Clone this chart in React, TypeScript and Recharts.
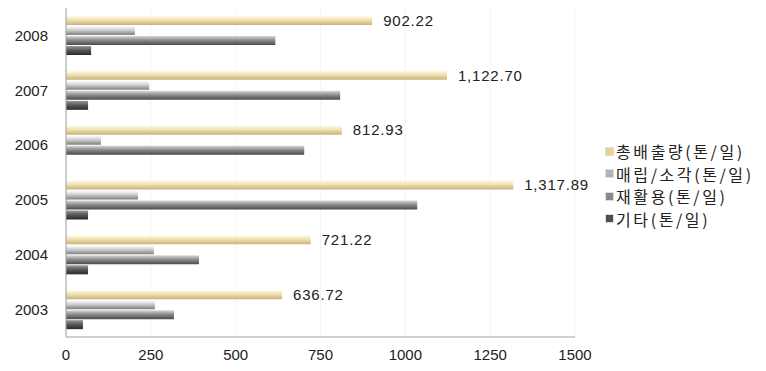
import { BarChart, Bar, XAxis, YAxis, CartesianGrid, Legend, LabelList } from "recharts"

const years = ["2008", "2007", "2006", "2005", "2004", "2003"]
const totalOut = [902.22, 1122.7, 812.93, 1317.89, 721.22, 636.72]
const landfill = [203, 245, 103, 212, 259, 262]
const recycle = [617, 808, 702, 1035, 392, 318]
const other = [74, 65, 0, 65, 65, 50]
const seriesNames = ["총배출량(톤/일)", "매립/소각(톤/일)", "재활용(톤/일)", "기타(톤/일)"]
const xTicks = [0, 250, 500, 750, 1000, 1250, 1500]

const data = years.map((year, i) => ({
  year,
  total: totalOut[i],
  landfill: landfill[i],
  recycle: recycle[i],
  other: other[i],
}))

const legendColors = ["#e6d394", "#b4b4b4", "#8a8a8a", "#4e4e4e"]
const numFont = "'Liberation Sans', Arial, sans-serif"
const krFont = "'Noto Sans CJK KR', sans-serif"

const fmt = (v: any) =>
  Number(v).toLocaleString("en-US", { minimumFractionDigits: 2, maximumFractionDigits: 2 })

function LegendBox() {
  return (
    <div style={{ fontFamily: krFont, fontSize: 16, color: "#222", letterSpacing: 2.6 }}>
      {seriesNames.map((name, i) => (
        <div key={name} style={{ display: "flex", alignItems: "center", height: 22.5 }}>
          <span
            style={{
              display: "inline-block",
              width: 7,
              height: 7,
              background: legendColors[i],
              marginRight: 2,
              border: "1px solid #ddd",
            }}
          />
          {name}
        </div>
      ))}
    </div>
  )
}

export default function App() {
  return (
    <div style={{ position: "absolute", left: 0, top: 0, width: 766, height: 371, background: "#fff" }}>
      <style>{"body{margin:0}"}</style>
      <BarChart
        width={766}
        height={371}
        data={data}
        layout="vertical"
        margin={{ top: 8, right: 191, left: 0, bottom: 4 }}
        barSize={9}
        barGap={1}
      >
        <defs>
          <linearGradient id="gTotal" x1="0" y1="0" x2="0" y2="1">
            <stop offset="0%" stopColor="#fffbe8" />
            <stop offset="45%" stopColor="#efe0ae" />
            <stop offset="100%" stopColor="#c9b27a" />
          </linearGradient>
          <linearGradient id="gLand" x1="0" y1="0" x2="0" y2="1">
            <stop offset="0%" stopColor="#ffffff" />
            <stop offset="45%" stopColor="#cfcfcf" />
            <stop offset="100%" stopColor="#7e7e7e" />
          </linearGradient>
          <linearGradient id="gRec" x1="0" y1="0" x2="0" y2="1">
            <stop offset="0%" stopColor="#d8d8d8" />
            <stop offset="45%" stopColor="#8e8e8e" />
            <stop offset="100%" stopColor="#4a4a4a" />
          </linearGradient>
          <linearGradient id="gOther" x1="0" y1="0" x2="0" y2="1">
            <stop offset="0%" stopColor="#9a9a9a" />
            <stop offset="45%" stopColor="#5a5a5a" />
            <stop offset="100%" stopColor="#2a2a2a" />
          </linearGradient>
        </defs>
        <CartesianGrid horizontal={false} stroke="#f3f3f3" />
        <XAxis
          type="number"
          domain={[0, 1500]}
          ticks={xTicks}
          tickLine={false}
          axisLine={{ stroke: "#a0a0a0" }}
          height={30}
          tick={{ fontSize: 15, fill: "#222", fontFamily: numFont }}
          tickMargin={6}
        />
        <YAxis
          type="category"
          dataKey="year"
          width={66}
          tickLine={false}
          axisLine={{ stroke: "#a0a0a0" }}
          tick={{ fontSize: 15, fill: "#222", fontFamily: numFont }}
          tickMargin={12}
        />
        <Legend
          layout="vertical"
          align="center"
          verticalAlign="middle"
          content={() => <LegendBox />}
          wrapperStyle={{ left: 605, top: 140, width: 161 }}
        />
        <Bar dataKey="total" name={seriesNames[0]} fill="url(#gTotal)" isAnimationActive={false}>
          <LabelList
            dataKey="total"
            position="right"
            offset={11}
            formatter={fmt}
            style={{ fontSize: 15, fill: "#222", fontFamily: numFont, letterSpacing: 0.8 }}
          />
        </Bar>
        <Bar dataKey="landfill" name={seriesNames[1]} fill="url(#gLand)" isAnimationActive={false} />
        <Bar dataKey="recycle" name={seriesNames[2]} fill="url(#gRec)" isAnimationActive={false} />
        <Bar dataKey="other" name={seriesNames[3]} fill="url(#gOther)" isAnimationActive={false} />
      </BarChart>
    </div>
  )
}
